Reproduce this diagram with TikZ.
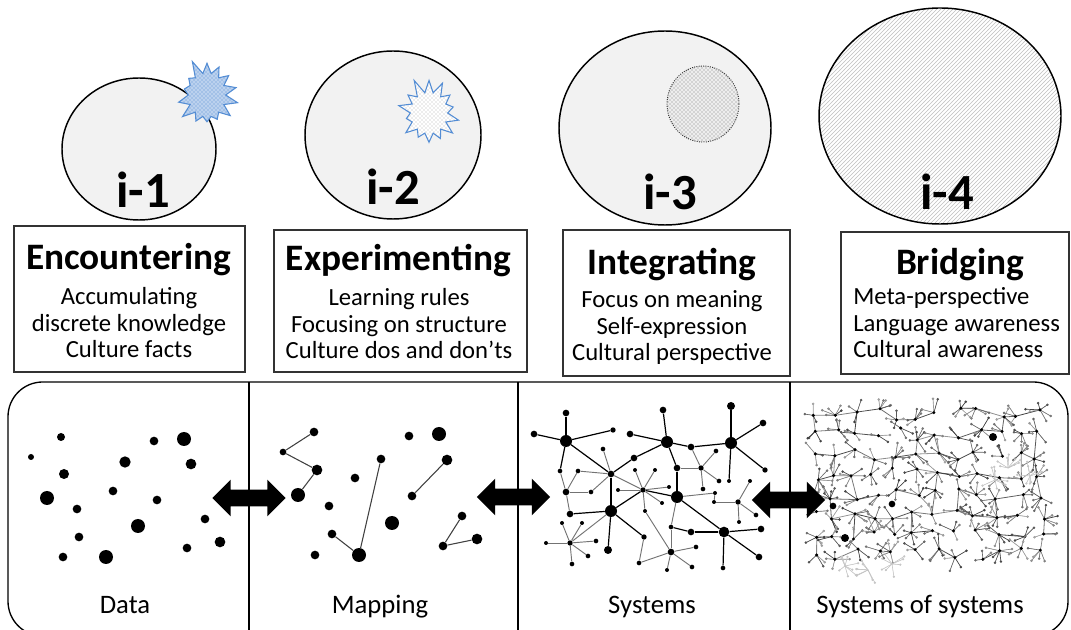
\documentclass[tikz,border=0pt]{standalone}
\usepackage{fontspec}
\setmainfont{Carlito}
\usetikzlibrary{shapes.symbols,shapes.arrows,patterns}

\definecolor{burstblue}{RGB}{84,141,212}
\definecolor{discfill}{RGB}{242,242,242}

\tikzset{
  disc/.style={draw=black, line width=1.1pt, fill=discfill},
  burst/.style={starburst, starburst points=14, starburst point height=12pt,
    draw=burstblue, line width=0.8pt, inner sep=0pt},
  ilabel/.style={font=\fontsize{38}{40}\selectfont\bfseries, inner sep=0pt},
  stagebox/.style={draw=black!80, line width=0.8pt, inner sep=0pt},
  stagetitle/.style={font=\fontsize{28}{30}\selectfont\bfseries, inner sep=0pt},
  stagetext/.style={font=\fontsize{18.5}{20}\selectfont, align=center, inner sep=0pt},
  panellabel/.style={font=\fontsize{20}{22}\selectfont, inner sep=0pt},
  twoway/.style={double arrow, fill=black, inner sep=0pt, text height=6pt, text depth=6pt,
    minimum height=55pt, double arrow head extend=7.5pt, double arrow tip angle=90},
  dot/.style={circle, fill=black, inner sep=0pt, minimum size=#1pt},
  link/.style={black, line width=0.9pt},
  softlink/.style={black!55, line width=0.7pt},
}

\begin{document}
\begin{tikzpicture}[x=0.75pt,y=0.75pt,yscale=-1,xscale=1]
\useasboundingbox (0,0) rectangle (1071,630);
\clip (0,0) rectangle (1071,630);

%Discs
\draw[disc] (139,149) ellipse (77 and 71);
\draw[disc] (393,135) ellipse (88 and 84);
\draw[disc] (665,128) ellipse (106 and 97);
\draw[line width=1.1pt, preaction={fill=white}, pattern=north east lines, pattern color=black!25] (940,116) ellipse (121 and 108);
\draw[black!80, densely dotted, line width=0.7pt, preaction={fill=black!7}, pattern=crosshatch dots, pattern color=black!50] (703,104) ellipse (36 and 38);

%Bursts
\node[burst, random starburst=5, minimum width=52pt, minimum height=57pt, preaction={fill=burstblue!40}, pattern=crosshatch dots, pattern color=burstblue] (burst1) at (207,95) {};
\node[burst, random starburst=11, minimum width=52pt, minimum height=55pt, preaction={fill=white}, pattern=crosshatch dots, pattern color=black!30] (burst2) at (429,113) {};

%Stage numbers
\node[ilabel] (i1) at (143,190) {i-1};
\node[ilabel] (i2) at (393,187) {i-2};
\node[ilabel] (i3) at (670,192) {i-3};
\node[ilabel] (i4) at (947,192) {i-4};

%Stage boxes
\node[stagebox, minimum width=173.25pt, minimum height=109.5pt] (enc) at (129.5,299) {};
\node[stagebox, minimum width=189.75pt, minimum height=106.5pt] (exp) at (400.5,301) {};
\node[stagebox, minimum width=170.25pt, minimum height=109.5pt] (int) at (676.5,303) {};
\node[stagebox, minimum width=171pt, minimum height=106.5pt] (bri) at (955,303) {};

\node[stagetitle, anchor=base] (enc-t) at (128.5,270) {Encountering};
\node[stagetitle, anchor=base] (exp-t) at (398.5,271) {Experimenting};
\node[stagetitle, anchor=base] (int-t) at (672,275) {Integrating};
\node[stagetitle, anchor=base] (bri-t) at (960,275) {Bridging};

\node[stagetext, anchor=base] (enc-b) at (129,358) {Accumulating\\discrete knowledge\\Culture facts};
\node[stagetext, anchor=base] (exp-b) at (399,359) {Learning rules\\Focusing on structure\\Culture dos and don’ts};
\node[stagetext, anchor=base] (int-b) at (672,361) {Focus on meaning\\Self-expression\\Cultural perspective};
\node[stagetext, align=left, anchor=base west] (bri-b) at (853,358) {Meta-perspective\\Language awareness\\Cultural awareness};

%Panel
\draw[line width=1pt, rounded corners=26pt] (8,382) rectangle (1068,636);
\draw[line width=1.4pt] (249,382) -- (249,630);
\draw[line width=1.4pt] (518,382) -- (518,630);
\draw[line width=1.4pt] (790,382) -- (790,630);

\node[panellabel, anchor=base] (data) at (125,614) {Data};
\node[panellabel, anchor=base] (mapping) at (380,614) {Mapping};
\node[panellabel, anchor=base] (systems) at (652,614) {Systems};
\node[panellabel, anchor=base] (sos) at (920,614) {Systems of systems};

%Data
\foreach \n/\x/\y/\sz in {1/61/437/6, 2/31/457/4.5, 3/64/474/7.5, 4/47/498/10.5, 5/77/509/6.5,
  6/79/537/6.5, 7/63/557/6.5, 8/106/557/10.5, 9/125/462/8.5, 10/113/491/6.5, 11/138/526/10.5,
  12/154/441/6.5, 13/184/439/10.5, 14/191/464/8, 15/157/500/6.5, 16/205/519/6.5, 17/220/542/8, 18/187/548/6.5}
  \node[dot=\sz] (d\n) at (\x,\y) {};

%Mapping
\foreach \n/\x/\y/\sz in {a/314/432/6.5, b/283/452/5, c/317/470/8, d/298/495/10.5, e/355/478/6.5,
  f/329/506/6.5, g/332/534/6.5, h/359/555/10.5, i/315/555/6.5, j/381/459/6.5, k/392/523/10.5,
  l/409/436/6.5, m/439/434/10.5, n/447/460/8, o/412/496/6.5, p/462/516/6.5, q/443/546/6.5, r/477/539/8}
  \node[dot=\sz] (m\n) at (\x,\y) {};
\foreach \a/\b in {ma/mb, mb/mc, mc/md, mg/mh, mh/mj, mn/mo, mp/mq, mq/mr}
  \draw[black!75, line width=0.8pt] (\a) -- (\b);

%Systems
\foreach \n/\x/\y/\sz in {s1/566/441/9, s2/667/442/9, s3/731/443/9, s4/611/511/9, s5/677/497/9, s6/724/532/8,
  p/611/474/5, q/643/490/4, r/691/447/5, s/634/458/5, t/701/468/4, u/677/468/5, v/566/492/5,
  w/570/514/5, x/738/502/4, y/570/543/4, z/671/552/5, aa/644/537/4, ab/691/532/5, ac/671/527/3.5,
  ad/608/550/6, ae/560/471/3.5,
  l1/566/413/5, l2/534/434/5, l3/613/430/4, l4/578/471/3.5, l5/591/492/3.5, l7/603/449/3.5,
  l8/618/490/3, l9/635/470/3, l10/655/470/3, l11/669/487/3, l12/662/503/3, l13/645/511/3,
  l14/663/410/5, l15/630/434/5, l16/716/451/3.5, l17/703/489/3.5, l18/719/481/3.5,
  l19/731/406/6, l20/763/423/5, l21/765/470/4, l22/729/481/3, l23/715/493/3, l24/714/502/3,
  l25/750/481/3, l26/756/515/3.5, l27/739/522/3, l28/761/529/5, l29/759/557/5, l30/723/568/3.5,
  l31/639/563/3.5, l32/696/547/3.5, l33/692/567/3.5, l34/667/570/3, l35/562/523/3, l36/582/523/3,
  l37/546/543/3, l38/596/541/3.5, l39/588/556/3.5, l40/572/564/3.5}
  \node[dot=\sz] (\n) at (\x,\y) {};
\foreach \a/\b in {s1/l1, s1/l2, s1/l3, s1/p, s1/ae, p/s4, s4/w, s4/ad, s4/q, p/s, s/s2, s2/l14,
  s2/l15, s2/r, r/s3, s3/l19, s3/l20, s3/l21, s3/l22, s2/u, u/s5, s5/s6, s6/l28, s6/l29, s6/l30,
  ac/ab, ab/s6, s4/aa, q/s5}
  \draw[link] (\a) -- (\b);
\foreach \a/\b in {ae/v, v/l4, l4/p, v/l5, l5/p, v/w, p/l7, p/q, q/l8, q/l9, q/l10, q/l11, q/l12,
  q/l13, s4/y, y/l35, y/l36, y/l37, y/l38, y/l39, y/l40, u/t, r/t, t/l16, t/l17, t/l18, s5/l23,
  l23/l24, l24/x, x/l25, x/l26, x/l27, s5/ac, aa/l31, l31/z, l13/z, z/l32, z/l33, z/l34, z/ac}
  \draw[softlink] (\a) -- (\b);

%Systems of systems
\pgfmathsetseed{7}
\foreach \i in {0,...,11}{
  \foreach \j in {0,...,7}{
    \pgfmathsetmacro{\hx}{814+20.5*\i+6*rand}
    \pgfmathsetmacro{\hy}{414+20*\j+6*rand}
    \coordinate (h-\i-\j) at (\hx,\hy);
  }
}
\foreach \i in {0,...,10}{
  \foreach \j in {0,...,7}{
    \pgfmathtruncatemacro{\k}{\i+1}
    \pgfmathtruncatemacro{\keep}{random(0,2)}
    \pgfmathtruncatemacro{\tone}{random(40,75)}
    \ifnum\keep>0 \draw[black!\tone, line width=0.6pt] (h-\i-\j) -- (h-\k-\j); \fi
  }
}
\foreach \i in {0,...,11}{
  \foreach \j in {0,...,6}{
    \pgfmathtruncatemacro{\k}{\j+1}
    \pgfmathtruncatemacro{\keep}{random(0,2)}
    \pgfmathtruncatemacro{\tone}{random(40,75)}
    \ifnum\keep>1 \draw[black!\tone, line width=0.6pt] (h-\i-\j) -- (h-\i-\k); \fi
  }
}
\foreach \i in {0,...,11}{
  \foreach \j in {0,...,7}{
    \pgfmathtruncatemacro{\nsp}{random(3,6)}
    \foreach \sp in {1,...,\nsp}{
      \pgfmathsetmacro{\ang}{360*rnd}
      \pgfmathsetmacro{\len}{7+8*rnd}
      \pgfmathtruncatemacro{\tone}{random(35,75)}
      \path[draw=black!\tone, fill=black!85, line width=0.5pt] (h-\i-\j) -- ++(\ang:\len) circle[radius=0.9];
    }
    \fill (h-\i-\j) circle[radius=1.7];
  }
}
\foreach \cx/\cy in {845/566, 868/570, 892/564, 1008/468, 1030/476, 995/480}{
  \foreach \sp in {1,...,8}{
    \pgfmathsetmacro{\ang}{360*rnd}
    \pgfmathsetmacro{\len}{6+9*rnd}
    \path[draw=black!22, fill=black!30, line width=0.45pt] (\cx,\cy) -- ++(\ang:\len) circle[radius=0.8];
  }
}
\foreach \n/\x/\y/\sz in {1/993/437/6, 2/845/538/6, 3/833/506/5, 4/892/504/5}
  \node[dot=\sz] (sb\n) at (\x,\y) {};

%Arrows
\node[twoway] (arr1) at (249,498) {};
\node[twoway] (arr2) at (513.5,497) {};
\node[twoway] (arr3) at (788.5,500) {};

\end{tikzpicture}
\end{document}
